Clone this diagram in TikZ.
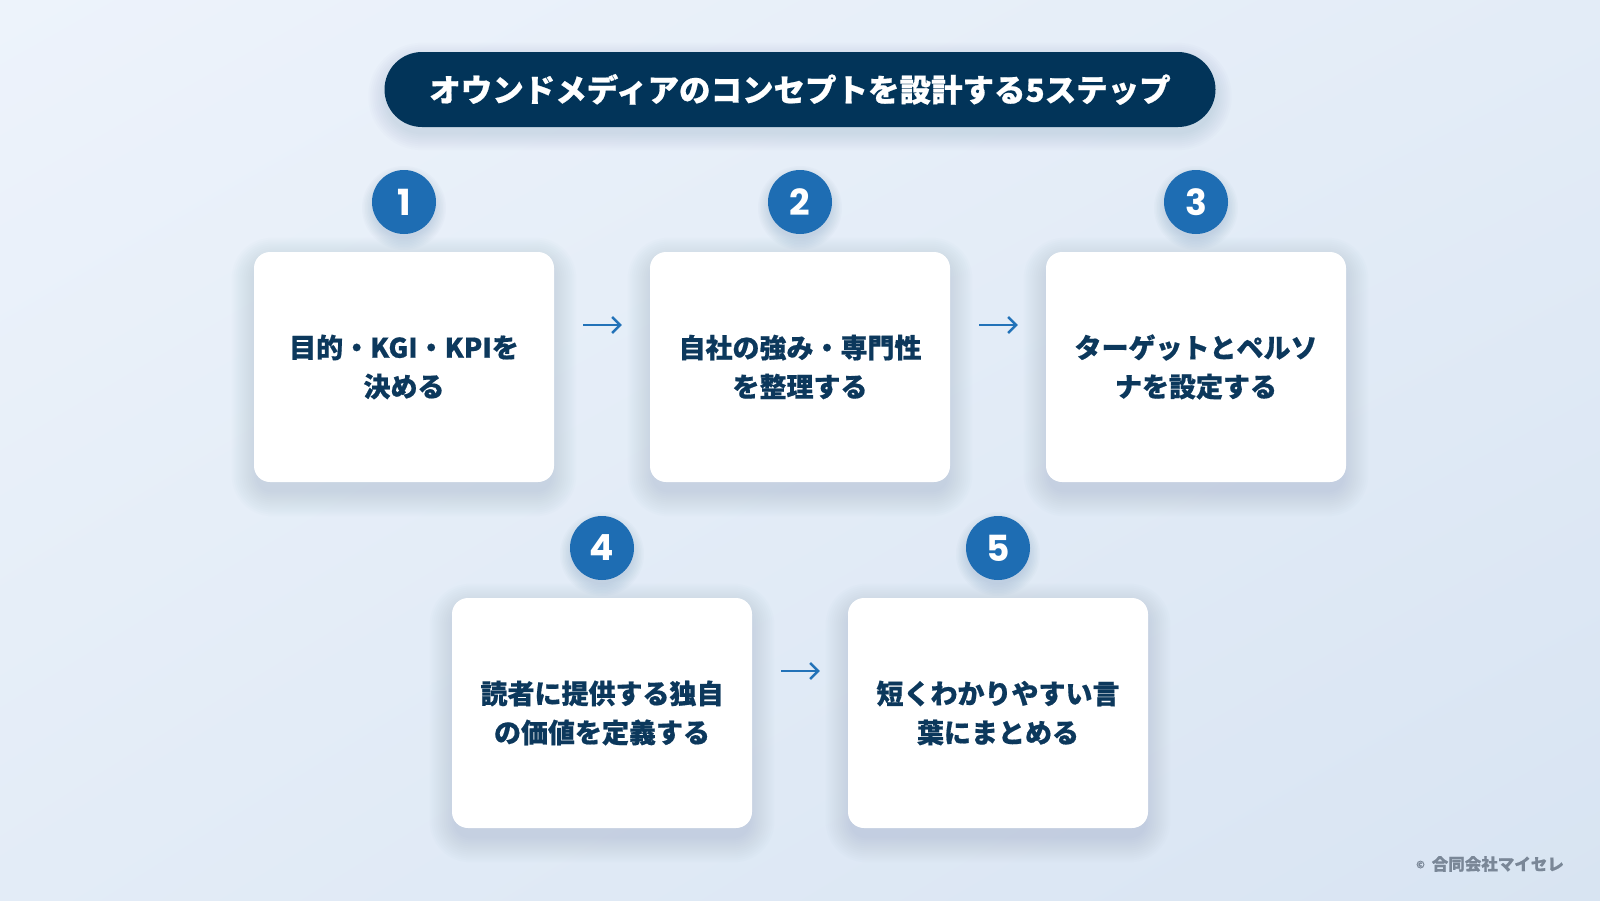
\documentclass[tikz,border=0pt]{standalone}
\usepackage{fontspec}
\setmainfont{Noto Sans CJK JP}[BoldFeatures={FakeBold=0.6}]
\newfontfamily\numfont{Poppins}
\usetikzlibrary{arrows.meta,shadings}
\definecolor{bgA}{HTML}{EDF3FB}
\definecolor{bgB}{HTML}{D8E4F2}
\definecolor{bgM}{HTML}{E3ECF7}
\definecolor{navy}{HTML}{023459}
\definecolor{circ}{HTML}{1E6DB3}
\definecolor{txt}{HTML}{0C385C}
\definecolor{arrc}{HTML}{2272B8}
\definecolor{copyc}{HTML}{7A8797}
\definecolor{shad}{HTML}{5E7FA8}
\pgfdeclarelayer{bg}
\pgfdeclarelayer{shadow}
\pgfsetlayers{bg,shadow,main}
\begin{document}
\begin{tikzpicture}[x=1pt,y=-1pt,
  stepbox/.style={fill=white, rounded corners=16pt, minimum width=300pt, minimum height=230pt,
    inner sep=0pt, align=center, text=txt, font=\bfseries\fontsize{27}{39}\selectfont},
  numcirc/.style={circle, fill=circ, minimum size=64pt, inner sep=0pt, text=white,
    font=\numfont\bfseries\fontsize{36}{36}\selectfont},
  arr/.style={draw=arrc, line width=2.4pt, -{Straight Barb[length=8pt,width=16pt,line width=2.4pt]}},
  shadowlayer/.style={fill=shad, opacity=0.016},
]
\useasboundingbox (0,0) rectangle (1600,900);
\begin{pgfonlayer}{bg}
\shade[upper left=bgA, upper right=bgM, lower left=bgM, lower right=bgB] (0,0) rectangle (1600,900);
\end{pgfonlayer}

\node[fill=navy, rounded corners=37.5pt, minimum width=831pt, minimum height=75pt, inner sep=0pt,
  text=white, font=\bfseries\fontsize{31.5}{31.5}\selectfont]
  (title) at (800,89.5) {オウンドメディアのコンセプトを設計する5ステップ};

\node[stepbox] (b1) at (404,367) {目的・KGI・KPIを\\決める};
\node[stepbox] (b2) at (800,367) {自社の強み・専門性\\を整理する};
\node[stepbox] (b3) at (1196,367) {ターゲットとペルソ\\ナを設定する};
\node[stepbox] (b4) at (602,713) {読者に提供する独自\\の価値を定義する};
\node[stepbox] (b5) at (998,713) {短くわかりやすい言\\葉にまとめる};

\node[numcirc] (n1) at (404,202) {1};
\node[numcirc] (n2) at (800,202) {2};
\node[numcirc] (n3) at (1196,202) {3};
\node[numcirc] (n4) at (602,548) {4};
\node[numcirc] (n5) at (998,548) {5};

\begin{pgfonlayer}{shadow}
\foreach \n in {b1,b2,b3,b4,b5}{
  \foreach \i in {0,2,...,24}{
    \fill[shadowlayer, rounded corners=16+\i]
      ([shift={(-\i+2,-\i+10)}]\n.north west) rectangle ([shift={(\i-2,\i+10)}]\n.south east);
  }
}
\foreach \n in {n1,n2,n3,n4,n5}{
  \foreach \i in {0,1.5,...,12}{
    \fill[fill=shad, opacity=0.028] ([yshift=-6pt]\n.center) circle[radius=30+\i];
  }
}
\foreach \i in {0,2,...,16}{
  \fill[fill=shad, opacity=0.02, rounded corners=37.5+\i]
    ([shift={(-\i,-\i+7)}]title.north west) rectangle ([shift={(\i,\i+7)}]title.south east);
}
\end{pgfonlayer}

\draw[arr, shorten <=29pt, shorten >=28pt] ([yshift=42pt]b1.east) -- ([yshift=42pt]b2.west);
\draw[arr, shorten <=29pt, shorten >=28pt] ([yshift=42pt]b2.east) -- ([yshift=42pt]b3.west);
\draw[arr, shorten <=29pt, shorten >=28pt] ([yshift=42pt]b4.east) -- ([yshift=42pt]b5.west);

\node[anchor=east, inner sep=0pt, text=copyc, font=\bfseries\fontsize{16.5}{16.5}\selectfont]
  (copy) at (1564,864) {\raisebox{2pt}{\fontsize{10}{10}\selectfont ©}\hspace{7pt}合同会社マイセレ};
\end{tikzpicture}
\end{document}
